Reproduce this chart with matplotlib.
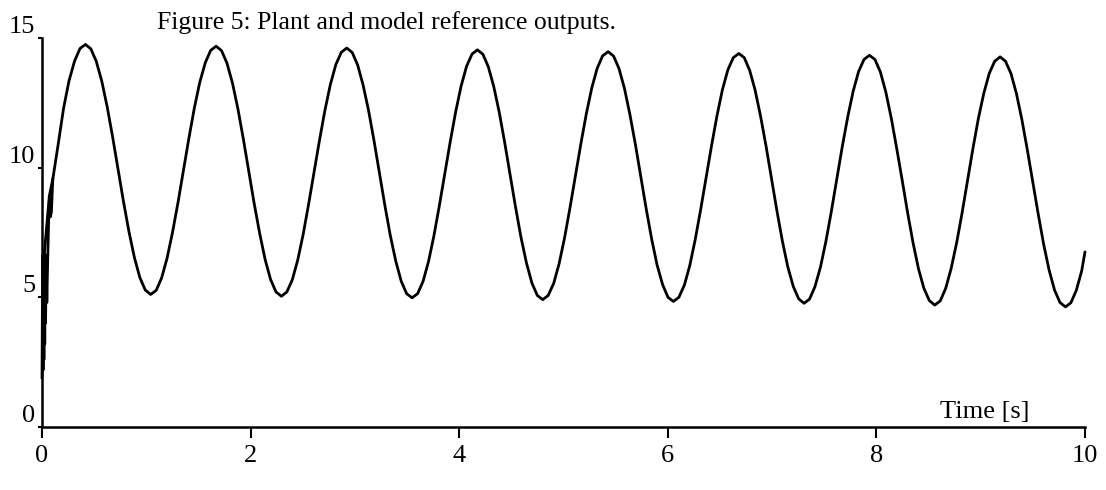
import matplotlib
matplotlib.use("Agg")
import matplotlib.pyplot as plt

plt.rcParams['font.family'] = ['Liberation Serif', 'DejaVu Serif']

# model reference output, time [s] and value
model_t = [0.020, 0.070, 0.103, 0.155, 0.207, 0.259, 0.312, 0.364,
           0.416, 0.468, 0.520, 0.573, 0.625, 0.677, 0.729, 0.781, 0.834, 0.886, 0.938, 0.990,
           1.042, 1.095, 1.147, 1.199, 1.251, 1.304, 1.356, 1.408, 1.460, 1.512, 1.565, 1.617,
           1.669, 1.721, 1.773, 1.826, 1.878, 1.930, 1.982, 2.034, 2.087, 2.139, 2.191, 2.243,
           2.295, 2.348, 2.400, 2.452, 2.504, 2.556, 2.609, 2.661, 2.713, 2.765, 2.817, 2.870,
           2.922, 2.974, 3.026, 3.078, 3.131, 3.183, 3.235, 3.287, 3.339, 3.392, 3.444, 3.496,
           3.548, 3.601, 3.653, 3.705, 3.757, 3.809, 3.862, 3.914, 3.966, 4.018, 4.070, 4.123,
           4.175, 4.227, 4.279, 4.331, 4.384, 4.436, 4.488, 4.540, 4.592, 4.645, 4.697, 4.749,
           4.801, 4.853, 4.906, 4.958, 5.010, 5.062, 5.114, 5.167, 5.219, 5.271, 5.323, 5.375,
           5.428, 5.480, 5.532, 5.584, 5.636, 5.689, 5.741, 5.793, 5.845, 5.897, 5.950, 6.002,
           6.054, 6.106, 6.159, 6.211, 6.263, 6.315, 6.367, 6.420, 6.472, 6.524, 6.576, 6.628,
           6.681, 6.733, 6.785, 6.837, 6.889, 6.942, 6.994, 7.046, 7.098, 7.150, 7.203, 7.255,
           7.307, 7.359, 7.411, 7.464, 7.516, 7.568, 7.620, 7.672, 7.725, 7.777, 7.829, 7.881,
           7.933, 7.986, 8.038, 8.090, 8.142, 8.194, 8.247, 8.299, 8.351, 8.403, 8.455, 8.508,
           8.560, 8.612, 8.664, 8.716, 8.769, 8.821, 8.873, 8.925, 8.977, 9.030, 9.082, 9.134,
           9.186, 9.238, 9.291, 9.343, 9.395, 9.447, 9.499, 9.552, 9.604, 9.656, 9.708, 9.760,
           9.813, 9.865, 9.917, 9.969, 10.000]
model_y = [6.60, 8.90, 9.55, 10.90, 12.30, 13.35, 14.11, 14.59,
           14.75, 14.58, 14.10, 13.33, 12.34, 11.18, 9.93, 8.69, 7.52, 6.53, 5.76, 5.28,
           5.11, 5.27, 5.75, 6.51, 7.50, 8.66, 9.90, 11.13, 12.29, 13.28, 14.04, 14.52,
           14.68, 14.51, 14.03, 13.26, 12.27, 11.11, 9.86, 8.62, 7.46, 6.46, 5.69, 5.21,
           5.04, 5.21, 5.68, 6.44, 7.43, 8.59, 9.83, 11.07, 12.22, 13.21, 13.97, 14.45,
           14.61, 14.44, 13.96, 13.19, 12.20, 11.04, 9.79, 8.55, 7.39, 6.39, 5.62, 5.14,
           4.98, 5.14, 5.61, 6.37, 7.36, 8.52, 9.76, 11.00, 12.15, 13.14, 13.90, 14.38,
           14.54, 14.37, 13.89, 13.13, 12.13, 10.97, 9.72, 8.48, 7.32, 6.32, 5.55, 5.07,
           4.91, 5.07, 5.54, 6.30, 7.29, 8.45, 9.69, 10.93, 12.08, 13.07, 13.83, 14.31,
           14.47, 14.30, 13.82, 13.06, 12.06, 10.90, 9.65, 8.41, 7.25, 6.25, 5.49, 5.00,
           4.84, 5.00, 5.47, 6.23, 7.23, 8.38, 9.62, 10.86, 12.01, 13.01, 13.77, 14.24,
           14.40, 14.24, 13.75, 12.99, 11.99, 10.83, 9.59, 8.34, 7.18, 6.18, 5.42, 4.94,
           4.77, 4.93, 5.41, 6.17, 7.16, 8.31, 9.55, 10.79, 11.95, 12.94, 13.70, 14.17,
           14.33, 14.17, 13.69, 12.92, 11.92, 10.76, 9.52, 8.27, 7.11, 6.11, 5.35, 4.87,
           4.70, 4.86, 5.34, 6.10, 7.09, 8.24, 9.48, 10.72, 11.88, 12.87, 13.63, 14.10,
           14.27, 14.10, 13.62, 12.85, 11.85, 10.69, 9.45, 8.20, 7.04, 6.05, 5.28, 4.80,
           4.63, 4.79, 5.27, 6.03, 6.75]

# plant output during the start-up transient, afterwards it follows the model
plant_t = [0.000, 0.006, 0.010, 0.014, 0.018, 0.022, 0.026, 0.030, 0.034,
           0.040, 0.046, 0.055, 0.065, 0.072, 0.080, 0.090, 0.103]
plant_y = [1.90, 6.60, 2.20, 6.70, 2.60, 6.70, 3.20, 6.60, 4.00,
           6.60, 4.80, 6.60, 8.20, 8.90, 8.10, 8.30, 9.55]

x_ticks = [0, 2, 4, 6, 8, 10]
y_ticks = [0, 5, 10, 15]

fig = plt.figure(figsize=(11.06, 4.90), dpi=100)
ax = fig.add_axes([0.038, 0.1286, 0.943, 0.794])

ax.plot(plant_t, plant_y, color='black', lw=2.0, clip_on=False,
        solid_joinstyle='round')
ax.plot(model_t, model_y, color='black', lw=2.0, clip_on=False,
        solid_joinstyle='round', solid_capstyle='round')

ax.set_xlim(0, 10)
ax.set_ylim(0, 15)
ax.spines['top'].set_visible(False)
ax.spines['right'].set_visible(False)
for side in ('left', 'bottom'):
    ax.spines[side].set_linewidth(1.8)

ax.set_xticks(x_ticks)
ax.set_xticklabels([str(v) for v in x_ticks], fontsize=19)
ax.set_yticks(y_ticks)
ax.set_yticklabels([str(v) for v in y_ticks], fontsize=19)
for lab in ax.get_yticklabels():
    lab.set_verticalalignment('bottom')
ax.tick_params(axis='x', direction='out', length=8, width=1.5, pad=5)
ax.tick_params(axis='y', direction='out', length=3, width=1.5, pad=2)

ax.text(9.04, 0.35, 'Time [s]', fontsize=19, ha='center', va='baseline')
fig.text(157 / 1106, 1 - 29 / 490, 'Figure 5: Plant and model reference outputs.',
         fontsize=18.5, ha='left', va='baseline')

fig.savefig('out.png', dpi=100)
